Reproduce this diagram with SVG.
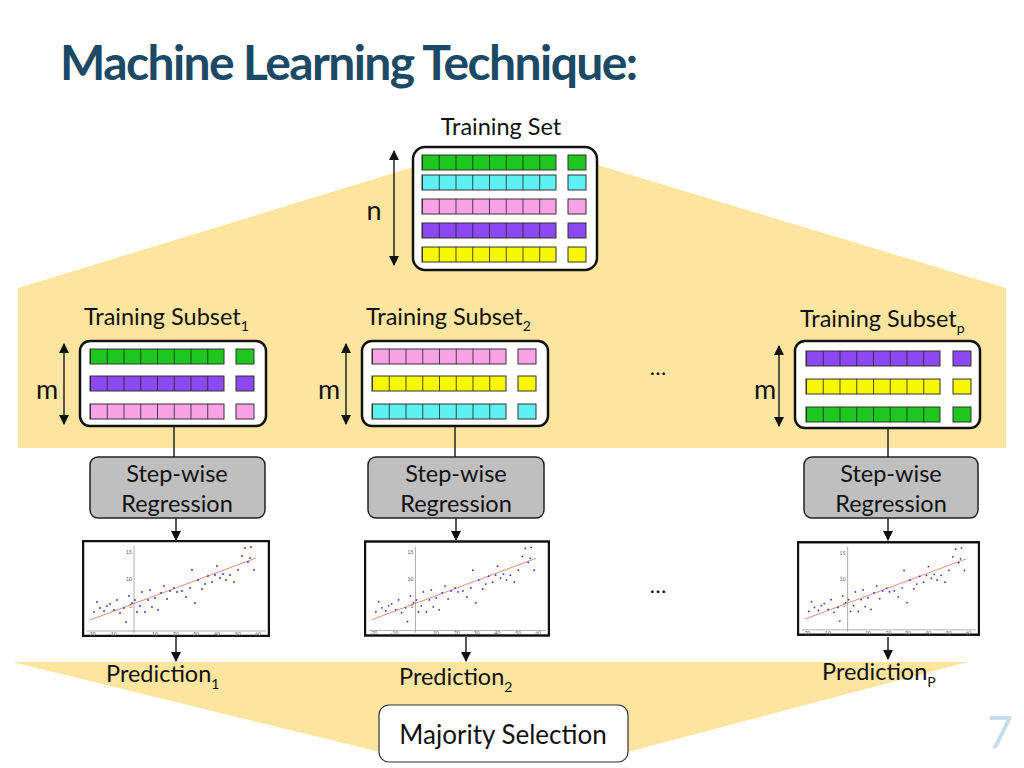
<svg xmlns="http://www.w3.org/2000/svg" xmlns:xlink="http://www.w3.org/1999/xlink" width="1024" height="768" viewBox="0 0 1024 768">
<style>
text{font-family:Lato,"Open Sans","Liberation Sans",sans-serif;fill:#111}
.lbl{font-size:23.5px}
.box{fill:#fff;stroke:#111;stroke-width:2.5}
.step{fill:#bfbfbf;stroke:#222;stroke-width:1.5}
.cell{stroke:#333;stroke-width:1}
.g{fill:#1ec71e}.c{fill:#5ff0f2}.p{fill:#f9a2e8}.v{fill:#8c48f2}.y{fill:#f7f700}
.ln{stroke:#222;stroke-width:1.5;fill:none}
</style>
<defs>
<marker id="ah" viewBox="0 0 10 10" refX="9" refY="5" markerWidth="7" markerHeight="7" orient="auto-start-reverse"><path d="M0,0L10,5L0,10z" fill="#111"/></marker>
<pattern id="cells" width="0.125" height="1" patternUnits="objectBoundingBox" patternContentUnits="objectBoundingBox"><line x1="0" y1="0" x2="0" y2="1" stroke="#222" stroke-width="0.012"/></pattern>
<symbol id="plot" viewBox="0 0 188 97" width="188" height="97">
<rect x="1" y="1" width="186" height="95" fill="#fff" stroke="#111" stroke-width="2.5"/>
<line x1="52" y1="6" x2="52" y2="93" stroke="#999" stroke-width="0.8"/>
<line x1="5" y1="91" x2="184" y2="91" stroke="#999" stroke-width="0.8"/>
<g>
<text x="44" y="14" style="font-size:5px;fill:#555">15</text><text x="44" y="41" style="font-size:5px;fill:#555">10</text><text x="47" y="68" style="font-size:5px;fill:#555">5</text>
<text x="6" y="96" style="font-size:5px;fill:#555">-20</text><text x="27" y="96" style="font-size:5px;fill:#555">-10</text><text x="70" y="96" style="font-size:5px;fill:#555">10</text><text x="91" y="96" style="font-size:5px;fill:#555">20</text><text x="111" y="96" style="font-size:5px;fill:#555">30</text><text x="132" y="96" style="font-size:5px;fill:#555">40</text><text x="153" y="96" style="font-size:5px;fill:#555">50</text><text x="173" y="96" style="font-size:5px;fill:#555">60</text>
</g>
<line x1="8" y1="80" x2="174" y2="18" stroke="#e08070" stroke-width="0.9"/>
<g fill="#2a2ad0">
<circle cx="12" cy="72" r="0.9"/><circle cx="15" cy="62" r="0.9"/><circle cx="18" cy="68" r="0.9"/><circle cx="22" cy="71" r="0.9"/><circle cx="25" cy="66" r="0.9"/><circle cx="28" cy="64" r="0.9"/><circle cx="32" cy="70" r="0.9"/><circle cx="35" cy="60" r="0.9"/><circle cx="38" cy="73" r="0.9"/><circle cx="42" cy="68" r="0.9"/><circle cx="44" cy="82" r="0.9"/><circle cx="47" cy="56" r="0.9"/><circle cx="50" cy="63" r="0.9"/><circle cx="53" cy="60" r="0.9"/><circle cx="55" cy="72" r="0.9"/><circle cx="58" cy="66" r="0.9"/><circle cx="60" cy="52" r="0.9"/><circle cx="63" cy="72" r="0.9"/><circle cx="66" cy="60" r="0.9"/><circle cx="68" cy="50" r="0.9"/><circle cx="70" cy="67" r="0.9"/><circle cx="73" cy="58" r="0.9"/><circle cx="76" cy="70" r="0.9"/><circle cx="79" cy="53" r="0.9"/><circle cx="82" cy="46" r="0.9"/><circle cx="85" cy="59" r="0.9"/><circle cx="88" cy="51" r="0.9"/><circle cx="92" cy="48" r="0.9"/><circle cx="95" cy="52" r="0.9"/><circle cx="100" cy="51" r="0.9"/><circle cx="104" cy="57" r="0.9"/><circle cx="108" cy="48" r="0.9"/><circle cx="110" cy="30" r="0.9"/><circle cx="113" cy="63" r="0.9"/><circle cx="116" cy="40" r="0.9"/><circle cx="120" cy="49" r="0.9"/><circle cx="123" cy="44" r="0.9"/><circle cx="126" cy="36" r="0.9"/><circle cx="130" cy="42" r="0.9"/><circle cx="133" cy="35" r="0.9"/><circle cx="135" cy="26" r="0.9"/><circle cx="138" cy="38" r="0.9"/><circle cx="141" cy="34" r="0.9"/><circle cx="144" cy="40" r="0.9"/><circle cx="148" cy="35" r="0.9"/><circle cx="152" cy="42" r="0.9"/><circle cx="156" cy="30" r="0.9"/><circle cx="160" cy="16" r="0.9"/><circle cx="163" cy="8" r="0.9"/><circle cx="166" cy="22" r="0.9"/><circle cx="169" cy="7" r="0.9"/><circle cx="172" cy="30" r="0.9"/><circle cx="168" cy="18" r="0.9"/>
</g>
</symbol>
</defs>
<rect width="1024" height="768" fill="#fff"/>
<polygon points="18,288 420,165 598,165 1006,288 1006,448 18,448" fill="#fde5a0"/>
<polygon points="12,662 968,662 628,752 380,752" fill="#fde5a0"/>
<text x="60" y="80" style="font-size:48px;font-weight:bold;fill:#1c4a66;letter-spacing:-1.6px">Machine Learning Technique:</text>
<text x="1000" y="748" text-anchor="middle" style="font-size:44px;fill:#c5dcef">7</text>

<g id="training-set">
<text x="501" y="135" class="lbl" text-anchor="middle">Training Set</text>
<rect x="413" y="147" width="184" height="123" rx="12" class="box"/>
<rect x="422" y="155" width="134" height="15" class="cell g"/><rect x="422" y="155" width="134" height="15" fill="url(#cells)"/><rect x="568" y="155" width="18" height="15" class="cell g"/>
<rect x="422" y="175" width="134" height="15" class="cell c"/><rect x="422" y="175" width="134" height="15" fill="url(#cells)"/><rect x="568" y="175" width="18" height="15" class="cell c"/>
<rect x="422" y="199" width="134" height="15" class="cell p"/><rect x="422" y="199" width="134" height="15" fill="url(#cells)"/><rect x="568" y="199" width="18" height="15" class="cell p"/>
<rect x="422" y="223" width="134" height="15" class="cell v"/><rect x="422" y="223" width="134" height="15" fill="url(#cells)"/><rect x="568" y="223" width="18" height="15" class="cell v"/>
<rect x="422" y="247" width="134" height="15" class="cell y"/><rect x="422" y="247" width="134" height="15" fill="url(#cells)"/><rect x="568" y="247" width="18" height="15" class="cell y"/>
<line x1="394" y1="151" x2="394" y2="265" class="ln" marker-start="url(#ah)" marker-end="url(#ah)"/>
<text x="374" y="220" text-anchor="middle" style="font-size:27px">n</text>
</g>

<g id="subset1">
<text x="84" y="325" class="lbl">Training Subset<tspan dy="6" style="font-size:14px">1</tspan></text>
<rect x="80" y="341" width="186" height="85" rx="10" class="box"/>
<rect x="90" y="349" width="134" height="15" class="cell g"/><rect x="90" y="349" width="134" height="15" fill="url(#cells)"/><rect x="236" y="349" width="18" height="15" class="cell g"/>
<rect x="90" y="376" width="134" height="15" class="cell v"/><rect x="90" y="376" width="134" height="15" fill="url(#cells)"/><rect x="236" y="376" width="18" height="15" class="cell v"/>
<rect x="90" y="404" width="134" height="15" class="cell p"/><rect x="90" y="404" width="134" height="15" fill="url(#cells)"/><rect x="236" y="404" width="18" height="15" class="cell p"/>
<line x1="64" y1="344" x2="64" y2="424" class="ln" marker-start="url(#ah)" marker-end="url(#ah)"/>
<text x="47" y="399" text-anchor="middle" style="font-size:27px">m</text>
</g>
<g id="subset2">
<text x="366" y="325" class="lbl">Training Subset<tspan dy="6" style="font-size:14px">2</tspan></text>
<rect x="362" y="341" width="186" height="85" rx="10" class="box"/>
<rect x="372" y="349" width="134" height="15" class="cell p"/><rect x="372" y="349" width="134" height="15" fill="url(#cells)"/><rect x="518" y="349" width="18" height="15" class="cell p"/>
<rect x="372" y="376" width="134" height="15" class="cell y"/><rect x="372" y="376" width="134" height="15" fill="url(#cells)"/><rect x="518" y="376" width="18" height="15" class="cell y"/>
<rect x="372" y="404" width="134" height="15" class="cell c"/><rect x="372" y="404" width="134" height="15" fill="url(#cells)"/><rect x="518" y="404" width="18" height="15" class="cell c"/>
<line x1="346" y1="344" x2="346" y2="424" class="ln" marker-start="url(#ah)" marker-end="url(#ah)"/>
<text x="329" y="399" text-anchor="middle" style="font-size:27px">m</text>
</g>
<g id="subsetp">
<text x="800" y="327" class="lbl">Training Subset<tspan dy="6" style="font-size:14px">p</tspan></text>
<rect x="795" y="341" width="185" height="87" rx="10" class="box"/>
<rect x="806" y="351" width="134" height="15" class="cell v"/><rect x="806" y="351" width="134" height="15" fill="url(#cells)"/><rect x="953" y="351" width="18" height="15" class="cell v"/>
<rect x="806" y="379" width="134" height="15" class="cell y"/><rect x="806" y="379" width="134" height="15" fill="url(#cells)"/><rect x="953" y="379" width="18" height="15" class="cell y"/>
<rect x="806" y="407" width="134" height="15" class="cell g"/><rect x="806" y="407" width="134" height="15" fill="url(#cells)"/><rect x="953" y="407" width="18" height="15" class="cell g"/>
<line x1="779" y1="346" x2="779" y2="426" class="ln" marker-start="url(#ah)" marker-end="url(#ah)"/>
<text x="765" y="399" text-anchor="middle" style="font-size:27px">m</text>
</g>
<text x="658" y="375" text-anchor="middle" style="font-size:22px">…</text>
<text x="658" y="593" text-anchor="middle" style="font-size:22px">…</text>

<g id="connectors">
<line x1="174" y1="426" x2="174" y2="457" class="ln"/>
<line x1="455" y1="426" x2="455" y2="457" class="ln"/>
<line x1="888" y1="428" x2="888" y2="457" class="ln"/>
<line x1="176" y1="518" x2="176" y2="540" class="ln" marker-end="url(#ah)"/>
<line x1="456" y1="518" x2="456" y2="540" class="ln" marker-end="url(#ah)"/>
<line x1="888" y1="518" x2="888" y2="540" class="ln" marker-end="url(#ah)"/>
<line x1="176" y1="637" x2="176" y2="661" class="ln" marker-end="url(#ah)"/>
<line x1="466" y1="637" x2="466" y2="661" class="ln" marker-end="url(#ah)"/>
<line x1="888" y1="637" x2="888" y2="659" class="ln" marker-end="url(#ah)"/>
</g>

<g id="step1"><rect x="90" y="457" width="175" height="61" rx="8" class="step"/><text x="177" y="482" class="lbl" text-anchor="middle">Step-wise</text><text x="177" y="512" class="lbl" text-anchor="middle">Regression</text></g>
<g id="step2"><rect x="368" y="457" width="176" height="61" rx="8" class="step"/><text x="456" y="482" class="lbl" text-anchor="middle">Step-wise</text><text x="456" y="512" class="lbl" text-anchor="middle">Regression</text></g>
<g id="stepp"><rect x="804" y="457" width="174" height="61" rx="8" class="step"/><text x="891" y="482" class="lbl" text-anchor="middle">Step-wise</text><text x="891" y="512" class="lbl" text-anchor="middle">Regression</text></g>

<g id="plot1"><use xlink:href="#plot" href="#plot" x="82" y="540" width="188" height="97"/></g>
<g id="plot2"><use xlink:href="#plot" href="#plot" x="364" y="540" width="186" height="97"/></g>
<g id="plotp"><use xlink:href="#plot" href="#plot" x="797" y="540" width="183" height="97"/></g>

<g id="pred1"><text x="106" y="682" class="lbl">Prediction<tspan dy="7" style="font-size:14px">1</tspan></text></g>
<g id="pred2"><text x="399" y="685" class="lbl">Prediction<tspan dy="7" style="font-size:14px">2</tspan></text></g>
<g id="predp"><text x="822" y="680" class="lbl">Prediction<tspan dy="7" style="font-size:14px">P</tspan></text></g>

<g id="majority"><rect x="379" y="705" width="249" height="57" rx="10" fill="#fff" stroke="#333" stroke-width="1.2"/><text x="503" y="744" text-anchor="middle" style="font-size:26px">Majority Selection</text></g>
</svg>
